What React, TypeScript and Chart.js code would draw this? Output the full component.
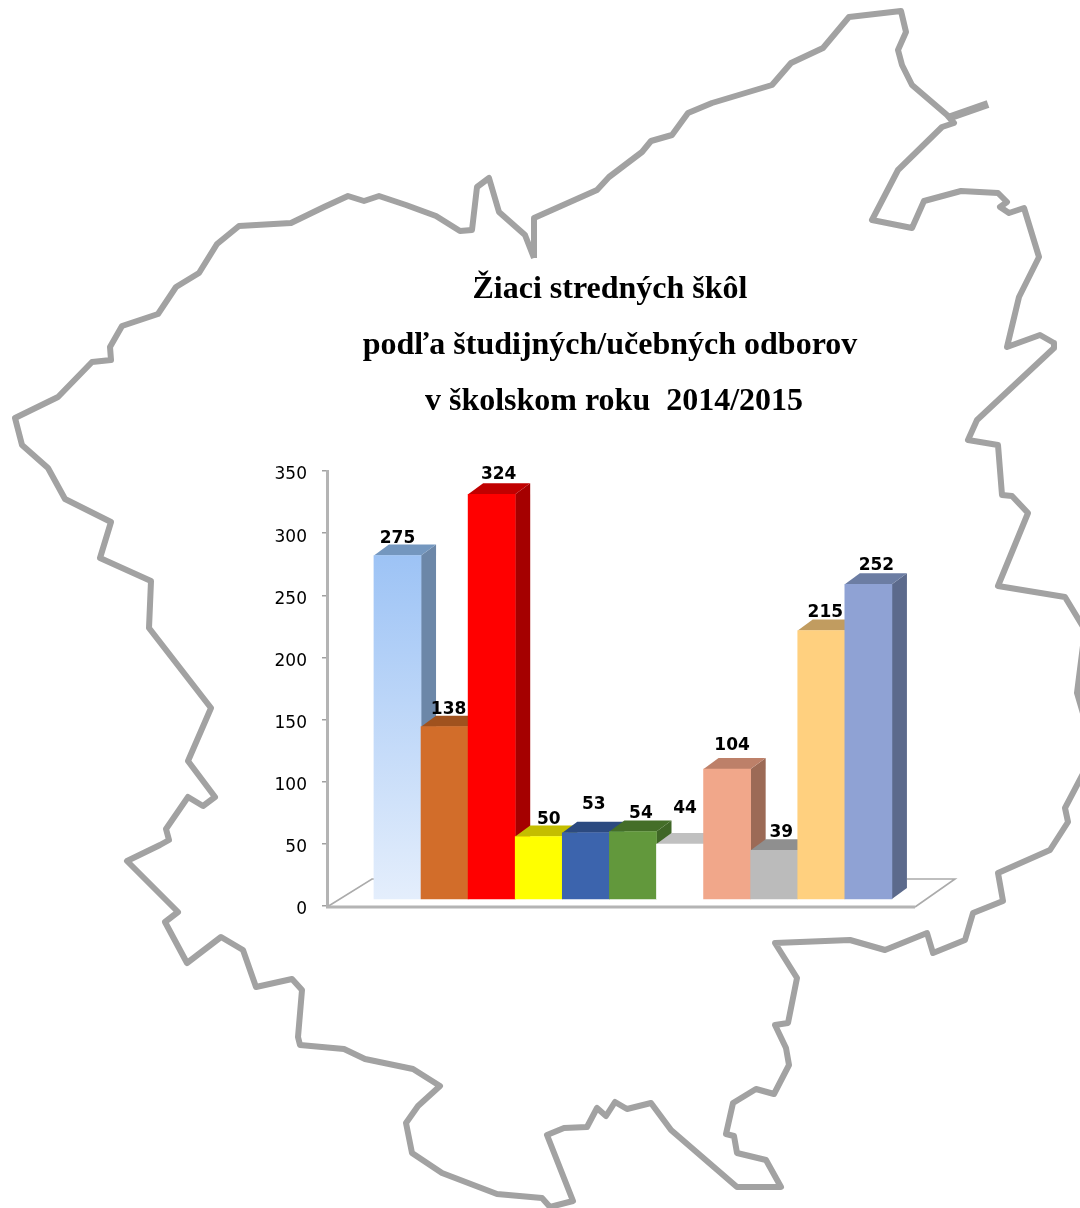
import React, { useEffect, useRef } from "react";
import { Chart, registerables } from "chart.js";

Chart.register(...registerables);

const titleLines = ["Žiaci stredných škôl", "podľa študijných/učebných odborov", " v školskom roku  2014/2015"];

const values = [275, 138, 324, 50, 53, 54, 44, 104, 39, 215, 252];
const frontColors = ["#9DC3F5", "#D26D2A", "#FF0000", "#FFFF00", "#3C64AD", "#62983C", "#FFFFFF", "#F1A78A", "#BBBBBB", "#FFD07F", "#8FA2D4"];
const topColors = ["#7497BF", "#A0521E", "#C00000", "#C4BE00", "#2C4A80", "#446E28", "#C0C0C0", "#BD8069", "#8F8F8F", "#C19C60", "#6C7DA3"];
const sideColors = ["#6C87A8", "#8A4A1C", "#A50000", "#A8A300", "#24406F", "#3F6626", "#FFFFFF", "#9C6A56", "#7C7C7C", "#A98850", "#5C6A8C"];
const labelNudgeX = [0, 4, 7, 10, 8, 8, 5, 5, 7, 4, 8];
const labelNudgeY = [13, 13, 15, 13, 24, 14, 31, 19, 13, 13, 14];

// Map outline of the region, in picture units (x right, y down)
const outline: [number, number][] = [
  [534, 258], [534, 218], [597, 190], [609, 177], [642, 152], [651, 141], [672, 135], [688, 113], [712, 103], [772, 85],
  [791, 63], [823, 48], [849, 17], [901, 11], [906, 32], [898, 50], [902, 65], [912, 85], [947, 115], [954, 123],
  [942, 127], [898, 170], [872, 220], [912, 228], [924, 201], [961, 191], [998, 193], [1007, 202], [1000, 207], [1009, 213],
  [1024, 208], [1039, 257], [1019, 297], [1007, 347], [1040, 335], [1054, 343], [1054, 348], [977, 420], [968, 440], [998, 445],
  [1002, 495], [1012, 496], [1028, 513], [998, 586], [1065, 597], [1085, 630], [1077, 693], [1085, 720], [1085, 770], [1065, 808],
  [1068, 822], [1050, 850], [998, 873], [1003, 901], [973, 913], [965, 940], [933, 953], [927, 933], [885, 950], [850, 940],
  [775, 943], [797, 978], [788, 1023], [775, 1025], [786, 1048], [789, 1065], [774, 1094], [756, 1089], [733, 1103], [726, 1134],
  [734, 1136], [737, 1153], [766, 1160], [781, 1187], [737, 1187], [671, 1130], [651, 1103], [627, 1109], [615, 1102], [606, 1116],
  [597, 1108], [587, 1127], [564, 1128], [547, 1135], [573, 1201], [550, 1207], [542, 1198], [497, 1194], [442, 1173], [412, 1153],
  [406, 1123], [418, 1106], [440, 1086], [413, 1069], [365, 1059], [344, 1049], [300, 1045], [298, 1037], [302, 990], [292, 979],
  [256, 987], [243, 950], [221, 937], [187, 963], [165, 922], [178, 912], [127, 861], [160, 845], [169, 840], [166, 829],
  [188, 797], [203, 806], [215, 797], [188, 761], [211, 708], [149, 628], [151, 581], [100, 558], [111, 522], [65, 499],
  [48, 468], [22, 445], [15, 418], [58, 397], [92, 362], [111, 360], [110, 347], [122, 326], [158, 314], [176, 287],
  [199, 273], [217, 244], [239, 226], [291, 223], [324, 207], [348, 196], [364, 201], [379, 196], [406, 205], [436, 216],
  [460, 231], [472, 230], [477, 187], [489, 178], [499, 212], [525, 235], [534, 258],
];
const spur: [number, number][] = [[948, 118], [988, 104]];

const toPoints = (list: [number, number][]) => list.map(([x, y]) => ({ x, y }));

const DEPTH_X = 15;
const DEPTH_Y = 11;

const bars3d = {
  id: "bars3d",
  afterLayout(chart: any) {
    // widen the tick-label clip area of the axis; the title stays centred on the picture's right part
    chart.scales.y.left = 200;
  },
  beforeDatasetsDraw(chart: any) {
    const { ctx, chartArea } = chart;
    const left = chartArea.left;
    const right = chartArea.right;
    const floorY = chart.scales.y.getPixelForValue(0) + 1;
    ctx.save();
    ctx.strokeStyle = "#ABABAB";
    ctx.lineWidth = 1.6;
    ctx.beginPath();
    ctx.moveTo(left, floorY);
    ctx.lineTo(left + 45, floorY - 28);
    ctx.lineTo(left + 47, floorY - 28);
    ctx.moveTo(right, floorY);
    ctx.lineTo(right + 40, floorY - 28);
    ctx.lineTo(right - 8, floorY - 28);
    ctx.stroke();
    ctx.strokeStyle = "#B4B4B4";
    ctx.lineWidth = 3;
    ctx.beginPath();
    ctx.moveTo(left - 1, floorY);
    ctx.lineTo(right, floorY);
    ctx.stroke();

    const elems = chart.getDatasetMeta(0).data;
    elems.forEach((bar: any, i: number) => {
      const w = bar.width;
      const l = bar.x - w / 2;
      const r = bar.x + w / 2;
      ctx.fillStyle = sideColors[i];
      ctx.beginPath();
      ctx.moveTo(r, bar.y);
      ctx.lineTo(r + DEPTH_X, bar.y - DEPTH_Y);
      ctx.lineTo(r + DEPTH_X, bar.base - DEPTH_Y);
      ctx.lineTo(r, bar.base);
      ctx.closePath();
      ctx.fill();
      ctx.fillStyle = topColors[i];
      ctx.beginPath();
      ctx.moveTo(l, bar.y);
      ctx.lineTo(l + DEPTH_X, bar.y - DEPTH_Y);
      ctx.lineTo(r + DEPTH_X, bar.y - DEPTH_Y);
      ctx.lineTo(r, bar.y);
      ctx.closePath();
      ctx.fill();
    });
    ctx.restore();
  },
  afterDatasetsDraw(chart: any) {
    const { ctx } = chart;
    ctx.save();
    ctx.fillStyle = "#000";
    ctx.font = "bold 17px 'DejaVu Sans'";
    ctx.textAlign = "center";
    ctx.textBaseline = "alphabetic";
    chart.getDatasetMeta(0).data.forEach((bar: any, i: number) => {
      ctx.fillText(String(values[i]), bar.x + labelNudgeX[i], bar.y - labelNudgeY[i]);
    });
    ctx.restore();
  },
};

export default function App() {
  const mapRef = useRef<HTMLCanvasElement>(null);
  const barRef = useRef<HTMLCanvasElement>(null);

  useEffect(() => {
    const mapChart = new Chart(mapRef.current as HTMLCanvasElement, {
      type: "scatter",
      data: {
        datasets: [
          { data: toPoints(outline), showLine: true, pointRadius: 0, borderColor: "#A2A2A2", borderWidth: 6, borderJoinStyle: "round", tension: 0 },
          { data: toPoints(spur), showLine: true, pointRadius: 0, borderColor: "#A2A2A2", borderWidth: 8, tension: 0 },
        ],
      } as any,
      options: {
        responsive: false,
        animation: false,
        layout: { padding: 0 },
        plugins: { legend: { display: false }, title: { display: false }, tooltip: { enabled: false } },
        scales: {
          x: { type: "linear", display: false, min: 0, max: 1080 },
          y: { type: "linear", display: false, min: 0, max: 1208, reverse: true },
        },
      },
    });

    const barChart = new Chart(barRef.current as HTMLCanvasElement, {
      type: "bar",
      data: {
        datasets: [
          {
            data: values.map((v, i) => ({ x: i, y: v })),
            yAxisID: "y2",
            borderWidth: 0,
            barPercentage: 1,
            categoryPercentage: 1,
            backgroundColor: (c: any) => {
              const chart = c.chart;
              const i = c.dataIndex;
              if (i !== 0 || !chart.chartArea || !chart.scales.y2) return frontColors[i];
              const s = chart.scales.y2;
              const g = chart.ctx.createLinearGradient(0, s.getPixelForValue(values[0]), 0, s.getPixelForValue(0));
              g.addColorStop(0, "#9DC3F5");
              g.addColorStop(1, "#E4EEFC");
              return g;
            },
          },
        ],
      } as any,
      options: {
        responsive: false,
        animation: false,
        layout: { padding: { top: 262, right: 165, bottom: 302, left: 305 } },
        plugins: {
          legend: { display: false },
          tooltip: { enabled: false },
          title: {
            display: true,
            text: titleLines,
            color: "#000",
            font: { family: "'Liberation Serif'", size: 32, weight: "bold", lineHeight: 56 / 32 },
            padding: { top: 0, bottom: 41 },
          },
        },
        scales: {
          x: { type: "linear", display: false, min: -1.497, max: 10.99, offset: false },
          y: {
            type: "linear",
            position: "left",
            min: 0,
            max: 350,
            afterFit: (s: any) => {
              s.width = 22;
            },
            border: { color: "#B4B4B4", width: 3 },
            grid: { drawOnChartArea: false, drawTicks: true, tickLength: 5, color: "#A0A0A0", lineWidth: 1.5 },
            ticks: {
              stepSize: 50,
              color: "#000",
              padding: 15,
              labelOffset: 4,
              font: { family: "'DejaVu Sans'", size: 17 },
            },
          },
          y2: { type: "linear", display: false, min: -5.6, max: 342.7 },
        },
      },
      plugins: [bars3d],
    } as any);

    return () => {
      mapChart.destroy();
      barChart.destroy();
    };
  }, []);

  return (
    <div style={{ position: "absolute", left: 0, top: 0, width: 1080, height: 1208, overflow: "hidden", background: "#fff" }}>
      <canvas ref={mapRef} width={1080} height={1208} style={{ position: "absolute", left: 0, top: 0 }} />
      <canvas ref={barRef} width={1080} height={1208} style={{ position: "absolute", left: 0, top: 0 }} />
    </div>
  );
}
